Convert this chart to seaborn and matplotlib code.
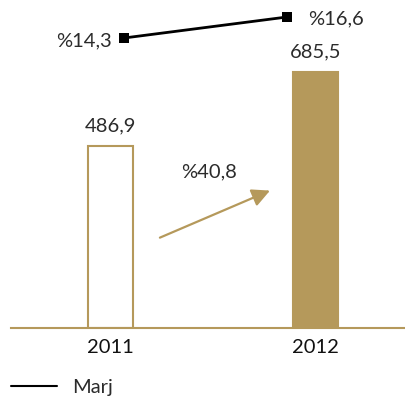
import matplotlib
matplotlib.use("Agg")
import matplotlib.pyplot as plt
import seaborn as sns
import pandas as pd

# Revenue per year and margin
years = ["2011", "2012"]
revenue = [486.9, 685.5]
margin = [14.3, 16.6]
growth_label = "%40,8"
legend_label = "Marj"

GOLD = "#b5995b"
TEXT = "#2b2b2b"

sns.set_theme(style="white")
plt.rcParams["font.family"] = ["Lato", "DejaVu Sans"]

W, H = 405, 398
fig = plt.figure(figsize=(W / 100, H / 100), dpi=100)

def fmt(v):
    return f"{v:.1f}".replace(".", ",")

FS = 14.5

# Main bar axes
base_px = 327.7
ax = fig.add_axes([11 / W, (H - base_px) / H, (W - 11) / W, base_px / H])
df = pd.DataFrame({"year": years, "revenue": revenue})
sns.barplot(data=df, x="year", y="revenue", hue="year",
            palette=["white", GOLD], saturation=1, edgecolor=GOLD,
            linewidth=1.5, width=0.22, legend=False, ax=ax)
ax.set_xlim(-0.4854, 1.4366)
ax.set_ylim(0, 877)
for s in ["top", "right", "left"]:
    ax.spines[s].set_visible(False)
ax.spines["bottom"].set_color(GOLD)
ax.spines["bottom"].set_linewidth(1.5)
ax.set_yticks([])
ax.set_xlabel("")
ax.set_ylabel("")
ax.tick_params(axis="x", length=0, pad=8, labelsize=FS, labelcolor="#111111")
ax.patch.set_alpha(0)

for i, v in enumerate(revenue):
    ax.annotate(fmt(v), (i, v), xytext=(0, 8), textcoords="offset points",
                ha="center", va="bottom", fontsize=FS, color=TEXT)

# Growth arrow
ax.annotate("", xy=(0.778, 367), xytext=(0.241, 241),
            arrowprops=dict(arrowstyle="-|>,head_length=0.9,head_width=0.45",
                            color=GOLD, lw=1.6, shrinkA=0, shrinkB=0))
ax.text(0.48, (base_px - 171.7) / 0.3735, growth_label, ha="center",
        va="center", fontsize=FS, color=TEXT)

# Margin line axes
lx0, lx1 = 124, 287
bot_px = 60
ppu = 21 / (margin[1] - margin[0])
ymax = margin[1] + 17 / ppu
ymin = margin[0] - (bot_px - 38) / ppu
lax = fig.add_axes([lx0 / W, (H - bot_px) / H, (lx1 - lx0) / W, bot_px / H])
ldf = pd.DataFrame({"year": years, "margin": margin})
sns.lineplot(data=ldf, x="year", y="margin", color="black", lw=2,
             marker="s", markersize=6.5, markeredgewidth=0, label=legend_label,
             clip_on=False, ax=lax)
lax.set_xlim(0, 1)
lax.set_ylim(ymin, ymax)
lax.axis("off")
lax.patch.set_alpha(0)
lax.annotate("%" + fmt(margin[0]), (0, margin[0]), xytext=(-9, -2),
             textcoords="offset points", ha="right", va="center",
             fontsize=FS, color=TEXT)
lax.annotate("%" + fmt(margin[1]), (1, margin[1]), xytext=(15, -1),
             textcoords="offset points", ha="left", va="center",
             fontsize=FS, color=TEXT)

handles, labels = lax.get_legend_handles_labels()
lax.get_legend().remove()
leg = fig.legend(handles, labels, loc="center left",
                 bbox_to_anchor=(11 / W, 1 - 387 / H), frameon=False,
                 borderpad=0, borderaxespad=0, handlelength=2.3,
                 handletextpad=0.75, fontsize=FS)
for h in leg.legend_handles:
    h.set_marker("")
    h.set_linewidth(1.5)
for t in leg.get_texts():
    t.set_color(TEXT)

fig.savefig("out.png", dpi=100)
